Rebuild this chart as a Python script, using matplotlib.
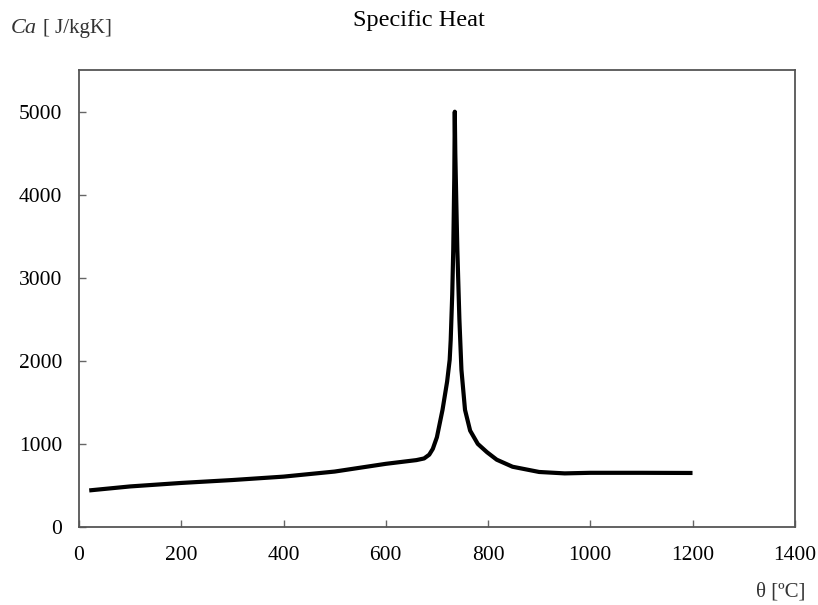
import matplotlib
matplotlib.use('Agg')
import matplotlib.pyplot as plt

# ── values ───────────────────────────────────────────────────────────
temp = [20, 100, 200, 300, 400, 500, 600, 640, 660, 675, 685, 692, 700, 711,
        720, 725, 727, 730, 732, 734, 735, 736, 738, 740, 744, 748, 755,
        765, 780, 798, 817, 848, 900, 950, 1000, 1100, 1200]
heat = [440, 488, 530, 565, 606, 667, 760, 790, 805, 825, 870, 940, 1080, 1410,
        1750, 2012, 2250, 2800, 3337, 4200, 5000, 4500, 3900, 3337, 2500, 1892, 1410,
        1160, 1000, 900, 810, 725, 662, 645, 652, 652, 650]

x_ticks = [0, 200, 400, 600, 800, 1000, 1200, 1400]
y_ticks = [0, 1000, 2000, 3000, 4000, 5000]

plt.rcParams['font.family'] = ['Liberation Serif', 'DejaVu Serif']

fig = plt.figure(figsize=(8.18, 6.05), dpi=100)
ax = fig.add_axes([0.0966, 0.129, 0.875, 0.755])

ax.plot(temp, heat, color='black', linewidth=3.0,
        solid_joinstyle='round', solid_capstyle='butt')

ax.set_xlim(0, 1400)
ax.set_ylim(0, 5500)
ax.set_xticks(x_ticks)
ax.set_yticks(y_ticks)
ax.tick_params(direction='in', length=5, width=1, color='#666666',
               labelsize=15.5, top=False, right=False)
ax.tick_params(axis='x', pad=14)
ax.tick_params(axis='y', pad=12)
for sp in ax.spines.values():
    sp.set_color('#555555')
    sp.set_linewidth(1.3)

fig.text(0.512, 0.966, 'Specific Heat', ha='center', va='center', fontsize=17.5)
fig.text(0.013, 0.953, 'Ca', ha='left', va='center', fontsize=16,
         style='italic', color='#333333')
fig.text(0.052, 0.953, '[ J/kgK]', ha='left', va='center', fontsize=15,
         color='#333333')
fig.text(0.954, 0.021, 'θ [ºC]', ha='center', va='center', fontsize=15,
         color='#333333')

fig.savefig('out.png', dpi=100)
